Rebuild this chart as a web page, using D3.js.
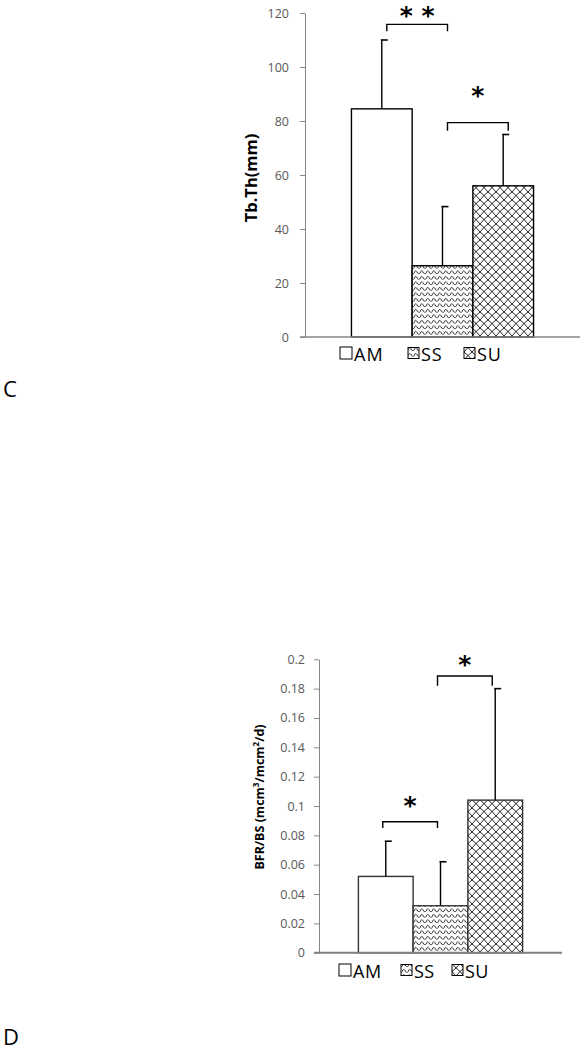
<!DOCTYPE html>
<html>
<head>
<meta charset="utf-8">
<script src="https://cdn.jsdelivr.net/npm/d3@7/dist/d3.min.js"></script>
<style>
  body { margin: 0; background: #fff; }
  svg { display: block; font-family: "Open Sans", "DejaVu Sans", sans-serif; }
</style>
</head>
<body>
<div id="chart"></div>
<script>
// Groups shared by both panels
const groups = ['AM', 'SS', 'SU'];

// Panel C: trabecular thickness
const tbThMean = [84.5, 26.4, 56.0];
const tbThSd = [25.5, 21.9, 19.0];
const tbThTicks = [0, 20, 40, 60, 80, 100, 120];
const tbThBrackets = [
    { from: 'AM', to: 'SS', level: 115.8, leg: 113.2, label: '* *', labelAt: 120.6 },
    { from: 'SS', to: 'SU', level: 79.4, leg: 76.4, label: '*', labelAt: 91.2 }
];

// Panel D: bone formation rate
const bfrMean = [0.052, 0.032, 0.104];
const bfrSd = [0.024, 0.030, 0.076];
const bfrTicks = [0, 0.02, 0.04, 0.06, 0.08, 0.1, 0.12, 0.14, 0.16, 0.18, 0.2];
const bfrBrackets = [
    { from: 'AM', to: 'SS', level: 0.0893, leg: 0.085, label: '*', labelAt: 0.1035 },
    { from: 'SS', to: 'SU', level: 0.1886, leg: 0.182, label: '*', labelAt: 0.1995 }
];

const width = 580, height = 1050;
const svg = d3.select('#chart').append('svg')
    .attr('width', width)
    .attr('height', height);

// Fill patterns
const defs = svg.append('defs');
const zig = defs.append('pattern')
    .attr('id', 'zig')
    .attr('patternUnits', 'userSpaceOnUse')
    .attr('width', 6).attr('height', 5.5);
zig.append('rect').attr('width', 6).attr('height', 5.5).attr('fill', '#fff');
zig.append('path')
    .attr('d', 'M0,3.8 C1,0.8 2,0.8 3,2.6 C4,4.4 5,4.4 6,3.8')
    .attr('fill', 'none').attr('stroke', '#000').attr('stroke-width', 0.9);

const lattice = defs.append('pattern')
    .attr('id', 'lattice')
    .attr('patternUnits', 'userSpaceOnUse')
    .attr('width', 8).attr('height', 8);
lattice.append('rect').attr('width', 8).attr('height', 8).attr('fill', '#fff');
lattice.append('path')
    .attr('d', 'M0,0 Q4,3 8,8 M8,0 Q4,3 0,8')
    .attr('fill', 'none').attr('stroke', '#000').attr('stroke-width', 0.85);

const fills = { AM: '#fff', SS: 'url(#zig)', SU: 'url(#lattice)' };

function drawPanel(cfg, means, sds, ticks, brackets) {
    const g = svg.append('g');

    const x0 = d3.scaleBand().domain(['all']).range([cfg.left, cfg.right]).paddingOuter(cfg.pad);
    const x = d3.scaleBand().domain(groups)
        .range([x0('all'), x0('all') + x0.bandwidth()]);
    const y = d3.scaleLinear().domain(cfg.domain).range([cfg.bottom, cfg.top]);

    // Y axis
    const yAxis = g.append('g')
        .attr('transform', `translate(${cfg.left},0)`)
        .call(d3.axisLeft(y).tickValues(ticks).tickSize(5).tickSizeOuter(0)
            .tickPadding(cfg.tickPad).tickFormat(cfg.format));
    yAxis.select('.domain').attr('stroke', '#868686');
    yAxis.selectAll('.tick line').attr('stroke', '#868686');
    yAxis.selectAll('.tick text')
        .attr('fill', '#595959')
        .attr('font-size', cfg.tickFont)
        .attr('font-family', '"Open Sans", sans-serif');

    // Bars
    const data = groups.map((k, i) => ({ key: k, mean: means[i], sd: sds[i] }));
    g.selectAll('.bar')
        .data(data)
        .enter().append('rect')
        .attr('class', 'bar')
        .attr('x', d => x(d.key))
        .attr('y', d => y(d.mean))
        .attr('width', x.bandwidth())
        .attr('height', d => y(0) - y(d.mean))
        .attr('fill', d => fills[d.key])
        .attr('stroke', cfg.barStroke)
        .attr('stroke-width', 1.4);

    // X axis line
    g.append('line')
        .attr('x1', cfg.left - 5).attr('x2', cfg.axisEnd)
        .attr('y1', y(0)).attr('y2', y(0))
        .attr('stroke', cfg.axisColor).attr('stroke-width', cfg.axisWidth);

    // Error bars (upper only)
    const eb = g.selectAll('.err')
        .data(data)
        .enter().append('g')
        .attr('class', 'err');
    eb.append('line')
        .attr('x1', d => x(d.key) + x.bandwidth() / 2)
        .attr('x2', d => x(d.key) + x.bandwidth() / 2)
        .attr('y1', d => y(d.mean))
        .attr('y2', d => y(d.mean + d.sd))
        .attr('stroke', '#000').attr('stroke-width', 1.4);
    eb.append('line')
        .attr('x1', d => x(d.key) + x.bandwidth() / 2 - 1)
        .attr('x2', d => x(d.key) + x.bandwidth() / 2 + 6)
        .attr('y1', d => y(d.mean + d.sd))
        .attr('y2', d => y(d.mean + d.sd))
        .attr('stroke', '#000').attr('stroke-width', 1.6);

    // Significance brackets
    brackets.forEach(b => {
        const x1 = x(b.from) + x.bandwidth() / 2 + cfg.brShift;
        const x2 = x(b.to) + x.bandwidth() / 2 + cfg.brShift;
        g.append('path')
            .attr('d', `M${x1},${y(b.leg)}V${y(b.level)}H${x2}V${y(b.leg)}`)
            .attr('fill', 'none').attr('stroke', '#000').attr('stroke-width', 1.4);
        g.append('text')
            .attr('x', (x1 + x2) / 2)
            .attr('y', y(b.labelAt) + 13)
            .attr('text-anchor', 'middle')
            .attr('font-size', 25)
            .attr('font-weight', 700)
            .attr('font-family', '"DejaVu Sans", sans-serif')
            .attr('xml:space', 'preserve')
            .text(b.label);
    });

    // Y label
    const yl = g.append('text')
        .attr('transform', `translate(${cfg.labelX},${cfg.labelY}) rotate(-90)`)
        .attr('text-anchor', 'middle')
        .attr('font-size', cfg.labelFont)
        .attr('font-weight', 700)
        .attr('fill', '#000');
    cfg.label.forEach(part => {
        const t = yl.append('tspan').text(part.t);
        if (part.sup) t.attr('baseline-shift', 'super').attr('font-size', cfg.labelFont * 0.65);
    });

    // Legend
    groups.forEach((k, i) => {
        const lx = cfg.legendXs[i];
        const box = k === 'AM' ? 12 : 11;
        g.append('rect')
            .attr('x', lx).attr('y', cfg.legendY - box / 2 - 1)
            .attr('width', box).attr('height', box)
            .attr('fill', fills[k])
            .attr('stroke', '#000').attr('stroke-width', 1);
        g.append('text')
            .attr('x', lx + box + 2)
            .attr('y', cfg.legendY + 6.5)
            .attr('font-size', cfg.legendFont)
            .attr('letter-spacing', cfg.legendSpacing)
            .attr('fill', '#000')
            .text(k);
    });

    // Panel letter
    svg.append('text')
        .attr('x', 3).attr('y', cfg.letterY)
        .attr('font-size', 22)
        .attr('fill', '#000')
        .text(cfg.letter);
}

drawPanel({
    left: 305, right: 580, axisEnd: 580, top: 13, bottom: 337, pad: 0.255,
    domain: [0, 120], tickPad: 11, tickFont: 12.5, format: d3.format('d'),
    barStroke: '#000', axisColor: '#868686', axisWidth: 1.3, brShift: 5,
    label: [{ t: 'Tb.Th(mm)' }], labelX: 257, labelY: 178, labelFont: 16.5,
    legendXs: [340, 408, 464], legendY: 354, legendFont: 18, legendSpacing: 1,
    letter: 'C', letterY: 397
}, tbThMean, tbThSd, tbThTicks, tbThBrackets);

drawPanel({
    left: 319, right: 562, axisEnd: 562, top: 659.3, bottom: 952.7, pad: 0.24,
    domain: [0, 0.2], tickPad: 9, tickFont: 12.5, format: d3.format('~g'),
    barStroke: '#333', axisColor: '#7f7f7f', axisWidth: 2, brShift: -3,
    label: [{ t: 'BFR/BS (mcm' }, { t: '3', sup: true }, { t: '/mcm' }, { t: '2', sup: true }, { t: '/d)' }],
    labelX: 264, labelY: 797, labelFont: 12.5,
    legendXs: [339, 401, 452], legendY: 971, legendFont: 18, legendSpacing: 0.5,
    letter: 'D', letterY: 1045
}, bfrMean, bfrSd, bfrTicks, bfrBrackets);
</script>
</body>
</html>
